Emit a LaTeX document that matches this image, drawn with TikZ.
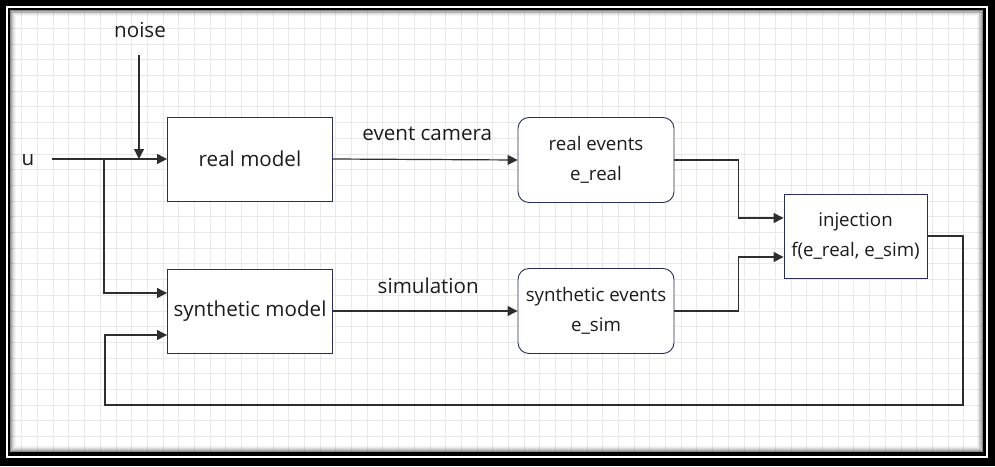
\documentclass[tikz,border=0pt]{standalone}
\usepackage{fontspec}
\setmainfont{Open Sans}
\usetikzlibrary{arrows.meta, positioning}
\definecolor{BoxInk}{HTML}{283058}
\definecolor{WireInk}{HTML}{2E2E2E}
\definecolor{GridInk}{HTML}{E9E9E9}
\definecolor{TextInk}{HTML}{1C1C1C}

\begin{document}
\begin{tikzpicture}[
    x=1pt, y=-1pt,
    font=\fontsize{20.6}{29}\selectfont,
    text=TextInk,
    block/.style={
      draw=BoxInk,
      line width=0.9pt,
      fill=white,
      minimum width=165pt,
      minimum height=84pt,
      inner sep=2pt,
      align=center,
    },
    small/.style={font=\fontsize{18.7}{30}\selectfont},
    evbox/.style={block, small, rounded corners=11pt, minimum width=156pt, minimum height=85pt},
    wire/.style={draw=WireInk, line width=1.2pt},
    feed/.style={wire, -{Triangle[length=10pt, width=10pt]}},
  ]
    \useasboundingbox (0,0) rectangle (995,466);
    % frame
    \fill[black] (0,0) rectangle (995,466);
    \fill[white] (6,6) rectangle (988,458);
    \fill[black] (8,8) rectangle (985.5,455.5);
    \fill[white] (10,10) rectangle (983,452);
    % grid
    \foreach \k in {0,...,61} {\draw[GridInk, line width=0.8pt] ({21.7+15.7*\k},10) -- ++(0,442);}
    \foreach \k in {0,...,27} {\draw[GridInk, line width=0.8pt] (10,{12.6+15.7*\k}) -- ++(973,0);}
    % inner shadow
    \foreach \i/\o in {0/45,1/32,2/22,3/14,4/8,5/4} {
      \draw[black, opacity=\o/100, line width=1pt] ({10.5+\i},{10.5+\i}) rectangle ({982.5-\i},{451.5-\i});
    }

    \node[block] (real) at (250,159) {real model};
    \node[block] (synth) at (250,311) {synthetic model};
    \node[evbox] (realev) at (596,160) {real events\\e\_real};
    \node[evbox] (synthev) at (596,311) {synthetic events\\e\_sim};
    \node[block, small, minimum width=143pt] (inj) at (855.5,236) {injection\\f(e\_real, e\_sim)};
    \node (u) at (28,160) {u};
    \node (noise) at (140,30) {noise};

    \coordinate (uin) at (52,159);
    \coordinate (split) at (104,159);
    \coordinate (noisetop) at (139,55);
    \coordinate (noisetip) at (139,159);
    \coordinate (fbr) at (963,405);
    \coordinate (fbl) at (105,405);

    \draw[feed] (noisetop) -- (noisetip);
    \draw[feed] (uin) -- (real.west);
    \draw[feed] (split) |- ([yshift=18pt]synth.west);
    \draw[feed] (real.east) -- node[midway, xshift=2pt, yshift=26pt] (camlbl) {event camera} (realev.west);
    \draw[feed] (synth.east) -- node[midway, xshift=3pt, yshift=25pt] (simlbl) {simulation} (synthev.west);
    \draw[feed] (realev.east) -- ++(64,0) |- ([yshift=18pt]inj.west);
    \draw[feed] (synthev.east) -- ++(64,0) |- ([yshift=-21pt]inj.west);
    \draw[feed] (inj.east) -| (fbr) -- (fbl) |- ([yshift=-24pt]synth.west);
  \end{tikzpicture}
\end{document}
